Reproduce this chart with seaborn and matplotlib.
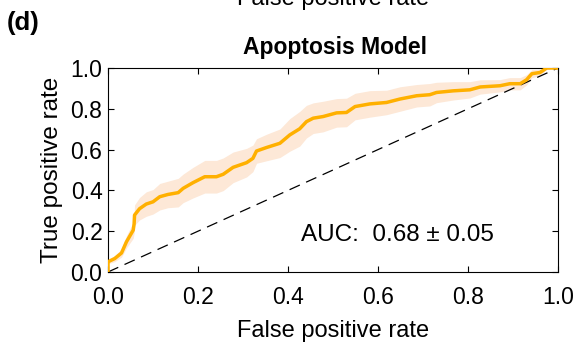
import numpy as np
import pandas as pd
import matplotlib
matplotlib.use("Agg")
import matplotlib.pyplot as plt
import seaborn as sns

fpr = [0, 0, 0.015, 0.03, 0.041, 0.056, 0.058, 0.059, 0.070, 0.085,
       0.10, 0.115, 0.133, 0.156, 0.167, 0.189, 0.215, 0.241, 0.256, 0.278,
       0.308, 0.322, 0.33, 0.352, 0.382, 0.404, 0.426, 0.441, 0.456, 0.478,
       0.508, 0.530, 0.549, 0.582, 0.619, 0.649, 0.686, 0.715, 0.730, 0.767,
       0.804, 0.827, 0.871, 0.893, 0.916, 0.930, 0.942, 0.96, 0.975, 1.0]
tpr = [0, 0.05, 0.066, 0.093, 0.148, 0.205, 0.235, 0.279, 0.31, 0.333,
       0.344, 0.369, 0.38, 0.389, 0.41, 0.438, 0.467, 0.467, 0.479, 0.513,
       0.536, 0.557, 0.593, 0.61, 0.631, 0.672, 0.702, 0.737, 0.754, 0.762,
       0.780, 0.782, 0.811, 0.824, 0.831, 0.848, 0.864, 0.869, 0.880, 0.888,
       0.893, 0.907, 0.913, 0.923, 0.923, 0.942, 0.972, 0.978, 1.0, 1.0]
tpr_sd = [0, 0.01, 0.015, 0.02, 0.03, 0.04, 0.045, 0.05, 0.055, 0.06,
          0.06, 0.065, 0.065, 0.07, 0.07, 0.075, 0.08, 0.08, 0.08, 0.075,
          0.07, 0.065, 0.06, 0.065, 0.07, 0.08, 0.085, 0.08, 0.075, 0.075,
          0.07, 0.07, 0.065, 0.065, 0.06, 0.06, 0.055, 0.055, 0.05, 0.045,
          0.04, 0.035, 0.03, 0.03, 0.03, 0.025, 0.02, 0.015, 0.005, 0]
xticks = [0.0, 0.2, 0.4, 0.6, 0.8, 1.0]
yticks = [0.0, 0.2, 0.4, 0.6, 0.8, 1.0]
auc_text = "AUC:  0.68 \u00b1 0.05"

sns.set_style("ticks")
plt.rcParams['font.family'] = ['Liberation Sans', 'DejaVu Sans']
plt.rcParams['text.color'] = 'black'
plt.rcParams['axes.labelcolor'] = 'black'
plt.rcParams['xtick.color'] = 'black'
plt.rcParams['ytick.color'] = 'black'

df = pd.DataFrame({"fpr": fpr, "tpr": tpr, "sd": tpr_sd})
df["lo"] = np.clip(df["tpr"] - df["sd"], 0, 1)
df["hi"] = np.clip(df["tpr"] + df["sd"], 0, 1)

W, H = 574, 344
fig = plt.figure(figsize=(W / 100, H / 100), dpi=100)
ax = fig.add_axes([108 / W, 1 - 272 / H, 450 / W, 204 / H])

ax.fill_between(df["fpr"], df["lo"], df["hi"], color="#FDE8D7", linewidth=0, zorder=1)
ax.plot([0, 1], [0, 1], linestyle=(0, (9, 5.5)), color="black", linewidth=0.9, zorder=2)
sns.lineplot(data=df, x="fpr", y="tpr", estimator=None, sort=False,
             color="#FFB000", linewidth=2.5, ax=ax, zorder=3)

ax.set_xlim(0, 1)
ax.set_ylim(0, 1)
ax.set_xticks(xticks)
ax.set_yticks(yticks)
ax.set_xticklabels([f"{t:.1f}" for t in xticks])
ax.set_yticklabels([f"{t:.1f}" for t in yticks])
ax.tick_params(direction="in", length=4, width=0.8, top=True, right=True,
               labelsize=16.5, colors="black")
ax.tick_params(axis="x", pad=10)
ax.tick_params(axis="y", pad=4)
for s in ax.spines.values():
    s.set_visible(True)
    s.set_linewidth(0.8)
    s.set_color("black")

ax.set_xlabel("False positive rate", fontsize=17, va="center")
ax.set_ylabel("True positive rate", fontsize=17.5, va="center")
ax.xaxis.set_label_coords(0.5, (272 - 331) / 204)
ax.yaxis.set_label_coords((52 - 108) / 450, 0.5)

ax.text((397 - 108) / 450, (272 - 235) / 204, auc_text, transform=ax.transAxes,
        ha="center", va="center", fontsize=17.5)

fig.text(335 / W, 1 - 54 / H, "Apoptosis Model", ha="center", va="baseline",
         fontsize=16.5, fontweight="bold")
fig.text(7 / W, 1 - 30 / H, "(d)", ha="left", va="baseline", fontsize=18.5, fontweight="bold")
fig.text(333 / W, 1 - 5 / H, "False positive rate", ha="center", va="baseline", fontsize=17)

fig.savefig("out.png", dpi=100)
